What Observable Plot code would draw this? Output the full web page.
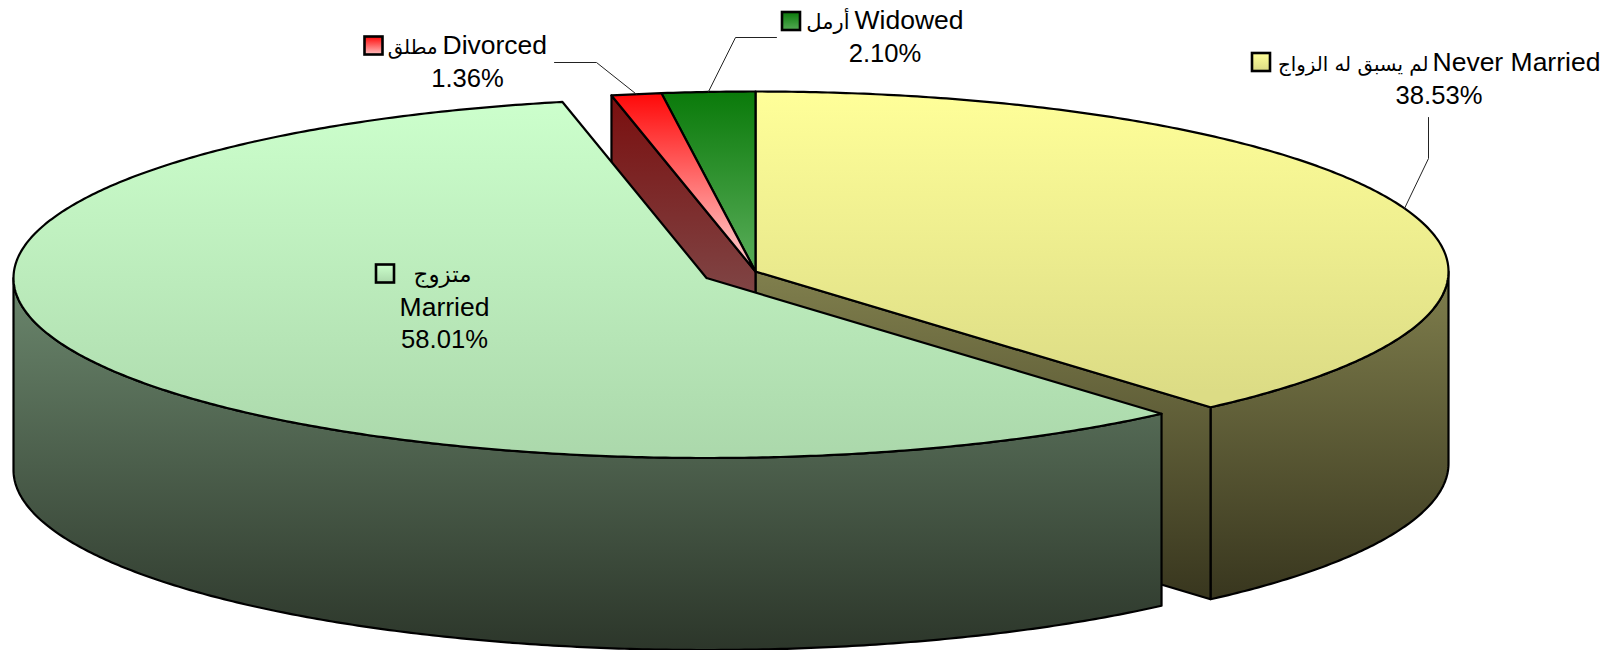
<!DOCTYPE html>
<html>
<head>
<meta charset="utf-8">
<script src="https://cdn.jsdelivr.net/npm/d3@7"></script>
<script src="https://cdn.jsdelivr.net/npm/@observablehq/plot@0.6"></script>
<style>html,body{margin:0;padding:0;background:#fff}svg{display:block}</style>
</head>
<body>
<div id="chart"></div>
<script>
// ---- data -------------------------------------------------------------
const categoriesEn = ["Never Married", "Married", "Divorced", "Widowed"];
const categoriesAr = ["لم يسبق له الزواج", "متزوج", "مطلق", "أرمل"];
const shares = [38.53, 58.01, 1.36, 2.10];

// ---- layout -----------------------------------------------------------
const W = 1624, H = 650;
const RX = 693, RY = 180, DEPTH = 192;
const centres = [[755, 271], [706, 277.5], [755, 271], [755, 271]];
const perspectiveNudge = [0, 0.25, 0.46, -0.24, 0]; // degrees, the renderer's foreshortening
const FONT = "Liberation Sans, Arial, sans-serif";

const cum = d3.cumsum(shares);
const total = cum[cum.length - 1];
const bounds = [0, ...cum].map((v, i) => v / total * 360 + perspectiveNudge[i]);

const rad = a => a * Math.PI / 180;
const onRim = (i, a, drop = 0) => ({
  x: centres[i][0] + RX * Math.sin(rad(a)),
  y: centres[i][1] - RY * Math.cos(rad(a)) + drop
});
const arc = (i, a0, a1, drop = 0) => {
  const n = Math.max(2, Math.ceil(Math.abs(a1 - a0) * 2));
  return d3.range(n + 1).map(k => onRim(i, a0 + (a1 - a0) * k / n, drop));
};
const apex = (i, drop = 0) => ({x: centres[i][0], y: centres[i][1] + drop});
const closed = pts => [...pts, pts[0]];

const topFace = i => closed([apex(i), ...arc(i, bounds[i], bounds[i + 1])]);
const outerWall = (i, a0, a1) => closed([...arc(i, a0, a1), ...arc(i, a1, a0, DEPTH)]);
const cutWall = (i, a) => closed([apex(i), onRim(i, a), onRim(i, a, DEPTH), apex(i, DEPTH)]);

const shape = (pts, fill) => Plot.line(pts, {
  x: "x", y: "y", fill: `url(#${fill})`, stroke: "#000", strokeWidth: 2.2,
  strokeLinejoin: "round", curve: "linear"
});

// ---- labels -----------------------------------------------------------
const label = (text, x, y, anchor, opts = {}) => Plot.text([{x, y, text}], {
  x: "x", y: "y", text: "text", textAnchor: anchor, lineAnchor: "bottom",
  fontSize: 25.6, fontFamily: FONT, fill: "#000", ...opts
});
const arabicSizes = [19.8, 23, 19.8, 21];
const nameFont = {fontSize: 26.5};
const pct = i => shares[i].toFixed(2) + "%";

const labelBoxes = [
  {key: [1252, 53], ar: [1428, 70], en: [1432, 70], pct: [1438.5, 103]},
  {key: [376, 264.5], ar: [471, 281], en: [444, 315], pct: [444, 347], enMiddle: true},
  {key: [364.5, 36.5], ar: [437, 53], en: [442, 53], pct: [467, 86.5]},
  {key: [782, 12], ar: [849, 28], en: [854, 28], pct: [884.5, 61.5]}
];
const keyFills = ["gYellowTop", "gGreenTop", "gRedKey", "gForestKey"];
const midRim = i => onRim(i, (bounds[i] + bounds[i + 1]) / 2);
const leaders = [
  [midRim(0), {x: 1428, y: 158}, {x: 1428, y: 117}],
  [midRim(2), {x: 596, y: 62}, {x: 554, y: 62}],
  [midRim(3), {x: 735, y: 37}, {x: 776, y: 37}]
];

// ---- plot -------------------------------------------------------------
const chart = Plot.plot({
  width: W, height: H,
  margin: 0,
  style: {background: "#fff"},
  x: {domain: [0, W], range: [0, W], axis: null},
  y: {domain: [0, H], range: [0, H], axis: null},
  marks: [
    // back faces
    shape(outerWall(0, 90, bounds[1]), "gOlive"),
    shape(cutWall(0, bounds[1]), "gOlive"),
    shape(cutWall(2, bounds[2]), "gMaroon"),
    // tops of the slices that stay at the centre
    shape(topFace(0), "gYellowTop"),
    shape(topFace(3), "gForestTop"),
    shape(topFace(2), "gRedTop"),
    // pulled-out slice
    shape(outerWall(1, bounds[1], 270), "gSlate"),
    shape(topFace(1), "gGreenTop"),
    // leaders
    ...leaders.map(l => Plot.line(l, {x: "x", y: "y", stroke: "#222", strokeWidth: 1, curve: "linear"})),
    // legend keys inside the labels
    ...labelBoxes.map((b, i) => Plot.rect([{x1: b.key[0], x2: b.key[0] + 18, y1: b.key[1], y2: b.key[1] + 18}], {
      x1: "x1", x2: "x2", y1: "y1", y2: "y2",
      fill: `url(#${keyFills[i]})`, stroke: "#000", strokeWidth: 2.6
    })),
    ...labelBoxes.flatMap((b, i) => [
      label(categoriesAr[i], b.ar[0], b.ar[1], "end", {fontFamily: "DejaVu Sans, sans-serif", fontSize: arabicSizes[i]}),
      label(categoriesEn[i], b.en[0], b.en[1], b.enMiddle ? "middle" : "start", nameFont),
      label(pct(i), b.pct[0], b.pct[1], "middle")
    ])
  ]
});

// gradients
const gradients = {
  gYellowTop: [[0, "#FFFF99"], [0.95, "#DCDC85"]],
  gGreenTop: [[0, "#CCFFCC"], [1, "#ABD8AB"]],
  gRedTop: [[0, "#FF0808"], [0.8, "#FFB0B0"], [1, "#FFC0C0"]],
  gRedKey: [[0, "#FF0808"], [1, "#FFC0C0"]],
  gForestTop: [[0, "#0A7A0A"], [0.85, "#4FA64F"], [1, "#55AA55"]],
  gForestKey: [[0, "#0A7A0A"], [1, "#55AA55"]],
  gOlive: [[0, "#807F4D"], [1, "#38361E"]],
  gSlate: [[0, "#6B876D"], [1, "#2C362A"]],
  gMaroon: [[0, "#7A0E0E"], [0.55, "#7F4646"], [1, "#7F5555"]]
};
const defs = d3.select(chart).insert("defs", ":first-child");
for (const [id, stops] of Object.entries(gradients)) {
  const g = defs.append("linearGradient").attr("id", id)
    .attr("x1", 0).attr("y1", 0).attr("x2", 0).attr("y2", 1);
  for (const [o, c] of stops) g.append("stop").attr("offset", o).attr("stop-color", c);
}
document.getElementById("chart").append(chart);
</script>
</body>
</html>
